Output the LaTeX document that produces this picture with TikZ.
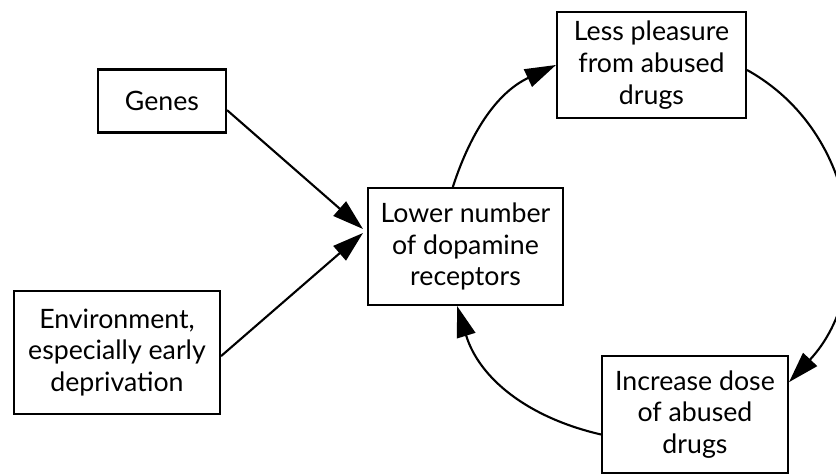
\documentclass[tikz,border=0pt]{standalone}
\usepackage{fontspec}
\setmainfont{Lato}
\usetikzlibrary{arrows.meta}
\begin{document}
\begin{tikzpicture}[x=0.02cm,y=0.02cm,
  box/.style={draw, line width=1.2pt, align=center, inner sep=2pt,
    font=\fontsize{15.2}{18}\selectfont},
  conn/.style={line width=1.2pt, -{Triangle[length=0.62cm,width=0.38cm]}}]
\useasboundingbox (0,0) rectangle (836,-475);
\clip (0,0) rectangle (836,-475);
\node[box, minimum width=2.56cm, minimum height=1.26cm] (genes) at (162,-101) {Genes};
\node[box, minimum width=4.12cm, minimum height=2.46cm] (env) at (117,-352.5) {Environment,\\especially early\\deprivation};
\node[box, minimum width=3.9cm, minimum height=2.34cm] (lower) at (465.5,-246.5) {Lower number\\of dopamine\\receptors};
\node[box, minimum width=3.78cm, minimum height=2.12cm] (less) at (651.5,-65) {Less pleasure\\from abused\\drugs};
\node[box, minimum width=3.72cm, minimum height=2.34cm] (inc) at (695,-414.5) {Increase dose\\of abused\\drugs};
\coordinate (gtip) at (363,-229);
\coordinate (etip) at (363,-233);
\draw[conn] (genes.-8) -- (gtip);
\draw[conn] (env.-2.5) -- (etip);
\draw[conn] (lower.102) to[out=72,in=205] (less.west);
\draw[conn] (less.-3) to[out=-29,in=47,looseness=1.05] (inc.19);
\draw[conn] (inc.192) to[out=167,in=-73] (lower.262);
\end{tikzpicture}
\end{document}
